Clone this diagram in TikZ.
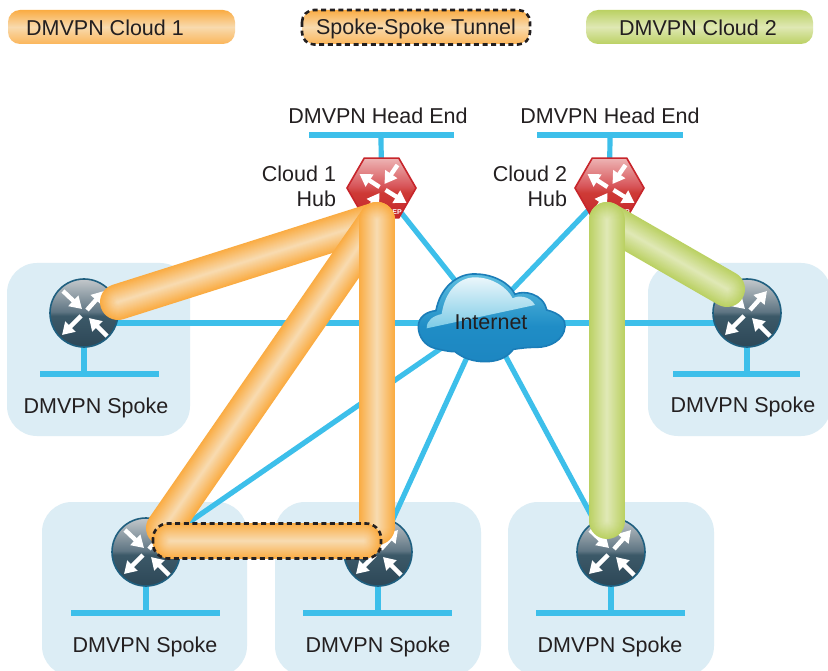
\documentclass[tikz,border=0pt]{standalone}
\usepackage{fontspec}
\setmainfont{Liberation Sans}
\usetikzlibrary{arrows.meta,shapes.geometric,calc}
\definecolor{lanblue}{HTML}{3DBFEA}
\definecolor{panelblue}{HTML}{DCEDF5}
\definecolor{inktext}{HTML}{231F20}
\definecolor{orgedge}{HTML}{FAAC43}
\definecolor{orgmid}{HTML}{F8DAAE}
\definecolor{orgsoft}{HTML}{FBB65A}
\definecolor{grnedge}{HTML}{BBD163}
\definecolor{grnmid}{HTML}{DFE8B4}
\definecolor{cloudedge}{HTML}{1B7DB8}
\definecolor{routeredge}{HTML}{1F5F7F}
\definecolor{hubedge}{HTML}{C7252B}
\definecolor{rta}{HTML}{2D4757}
\definecolor{rtb}{HTML}{3C5968}
\definecolor{rtc}{HTML}{5F7583}
\definecolor{rtd}{HTML}{C3C8CB}
\definecolor{hba}{HTML}{C5272B}
\definecolor{hbb}{HTML}{CE3A36}
\definecolor{hbc}{HTML}{D8565A}
\definecolor{hbd}{HTML}{EDB4B4}
\definecolor{cla}{HTML}{1D86C1}
\definecolor{clb}{HTML}{1F8DC6}
\definecolor{clc}{HTML}{5FBFE0}
\definecolor{gla}{HTML}{7CCBE6}
\definecolor{glb}{HTML}{EAF6FB}
\pgfdeclareverticalshading{routershade}{100bp}{%
  color(0bp)=(rta);color(25bp)=(rta);color(48bp)=(rtb);color(51bp)=(rtc);color(75bp)=(rtd);color(100bp)=(rtd)}
\pgfdeclareverticalshading{hubshade}{100bp}{%
  color(0bp)=(hba);color(25bp)=(hba);color(46bp)=(hbb);color(52bp)=(hbc);color(75bp)=(hbd);color(100bp)=(hbd)}
\pgfdeclareverticalshading{pillorange}{100bp}{%
  color(0bp)=(orgedge);color(25bp)=(orgsoft);color(50bp)=(orgmid);color(75bp)=(orgedge);color(100bp)=(orgedge)}
\pgfdeclareverticalshading{pillgreen}{100bp}{%
  color(0bp)=(grnedge);color(25bp)=(grnedge);color(50bp)=(grnmid);color(75bp)=(grnedge);color(100bp)=(grnedge)}
\pgfdeclareverticalshading{cloudbody}{100bp}{%
  color(0bp)=(cla);color(25bp)=(cla);color(45bp)=(clb);color(75bp)=(clc);color(100bp)=(clc)}
\pgfdeclareverticalshading{cloudgloss}{100bp}{%
  color(0bp)=(gla);color(25bp)=(gla);color(75bp)=(glb);color(100bp)=(glb)}
\tikzset{
  x=1pt,y=-1pt,
  every node/.style={font=\fontsize{21.5}{25}\selectfont,text=inktext,inner sep=0pt,outer sep=0pt},
  panel/.style={fill=panelblue,rounded corners=30},
  lan/.style={draw=lanblue,line width=5.2pt},
  routerdisc/.style={circle,minimum size=68,draw=routeredge,line width=1.6pt,shade,shading=routershade},
  hubhex/.style={regular polygon,regular polygon sides=6,minimum size=69,draw=hubedge,line width=1.6pt,shade,shading=hubshade},
  legendpill/.style={minimum width=227,minimum height=34,rounded corners=12},
  whitearrow/.style={draw=white,line width=4.4pt,-{Triangle[width=14pt,length=12pt]}},
  pics/routerarrows/.style={code={
    \draw[whitearrow] (-21,-22) -- (-2,-4);
    \draw[whitearrow] (3,-3) -- (20,-22);
    \draw[whitearrow] (-3,3) -- (-22,22);
    \draw[whitearrow] (23,23) -- (5,5);
  }},
  pics/hubarrows/.style={code={
    \draw[whitearrow] (-2,-1) -- (-22,-14);
    \draw[whitearrow] (16,-23) -- (3,-4);
    \draw[whitearrow] (4,2) -- (25,15);
    \draw[whitearrow] (-14,23) -- (-2,5);
  }},
}
% tube: connector with a cross gradient, built from nested strokes
\newcommand{\tube}[4]{%
  \foreach \layer in {0,...,17}{%
    \pgfmathsetmacro{\tubew}{36*(1-\layer/18)}%
    \pgfmathsetmacro{\tubemix}{100*\layer/17}%
    \draw[line cap=round,line width=\tubew pt,color=#4!\tubemix!#3] (#1) -- (#2);
  }}
\begin{document}
\begin{tikzpicture}
\clip (0,0) rectangle (828,671);
\fill[white] (0,0) rectangle (828,671);

% panels
\fill[panel] (7,263) rectangle (190,436);
\fill[panel] (648,263) rectangle (831,436);
\fill[panel] (42,502) rectangle (247,676);
\fill[panel] (275,502) rectangle (481,676);
\fill[panel] (508,502) rectangle (714,676);

% named positions
\coordinate (net) at (485,318);
\coordinate (he1a) at (309,135); \coordinate (he1b) at (454,135); \coordinate (he1m) at (381,135);
\coordinate (he2a) at (537,135); \coordinate (he2b) at (683,135); \coordinate (he2m) at (610,135);
\coordinate (lan1a) at (40,374); \coordinate (lan1b) at (159,374); \coordinate (lan1m) at (84,374);
\coordinate (lan2a) at (673,374); \coordinate (lan2b) at (800,374); \coordinate (lan2m) at (747,374);
\coordinate (lan3a) at (71,613); \coordinate (lan3b) at (220,613); \coordinate (lan3m) at (146,613);
\coordinate (lan4a) at (303,613); \coordinate (lan4b) at (452,613); \coordinate (lan4m) at (378,613);
\coordinate (lan5a) at (536,613); \coordinate (lan5b) at (685,613); \coordinate (lan5m) at (611,613);
\coordinate (hub1c) at (381.5,188);
\coordinate (hub2c) at (609.5,188);
\coordinate (sp1c) at (84,313);
\coordinate (sp2c) at (747,313);
\coordinate (sp3c) at (146,552);
\coordinate (sp4c) at (378,552);
\coordinate (sp5c) at (611,552);
\coordinate (w1) at (84,323);
\coordinate (w2) at (747,323);

% LAN and WAN links
\draw[lan] (he1a) -- (he1b); \draw[lan] (he1m) -- (hub1c);
\draw[lan] (he2a) -- (he2b); \draw[lan] (he2m) -- (hub2c);
\draw[lan] (lan1a) -- (lan1b); \draw[lan] (lan1m) -- (sp1c);
\draw[lan] (lan2a) -- (lan2b); \draw[lan] (lan2m) -- (sp2c);
\draw[lan] (lan3a) -- (lan3b); \draw[lan] (lan3m) -- (sp3c);
\draw[lan] (lan4a) -- (lan4b); \draw[lan] (lan4m) -- (sp4c);
\draw[lan] (lan5a) -- (lan5b); \draw[lan] (lan5m) -- (sp5c);
\draw[lan] (hub1c) -- (net);
\draw[lan] (hub2c) -- (net);
\draw[lan] (w1) -- (w2);
\draw[lan] (sp3c) -- (net);
\draw[lan] (sp4c) -- (net);
\draw[lan] (sp5c) -- (net);

% devices
\node[hubhex] (hub1) at (hub1c) {};
\node[hubhex] (hub2) at (hub2c) {};
\node[routerdisc] (sp1) at (sp1c) {};
\node[routerdisc] (sp2) at (sp2c) {};
\node[routerdisc] (sp3) at (sp3c) {};
\node[routerdisc] (sp4) at (sp4c) {};
\node[routerdisc] (sp5) at (sp5c) {};
\path (hub1.center) pic {hubarrows};
\path (hub2.center) pic {hubarrows};
\path (sp1.center) pic {routerarrows};
\path (sp2.center) pic {routerarrows};
\path (sp3.center) pic {routerarrows};
\path (sp4.center) pic {routerarrows};
\path (sp5.center) pic {routerarrows};
\node[font=\bfseries\fontsize{7}{8}\selectfont,text=white] (tag1) at (397,212) {EP};
\node[font=\bfseries\fontsize{7}{8}\selectfont,text=white] (tag2) at (625,212) {EP};

% cloud
\begin{scope}[shift={(400,260)},x=0.33333pt,y=-0.33333pt]
\draw[draw=cloudedge,line width=1.6pt,shade,shading=cloudbody]
  (55,200) .. controls (55,170) and (80,155) .. (108,152)
  .. controls (120,85) and (170,40) .. (225,42)
  .. controls (280,42) and (330,70) .. (345,103)
  .. controls (370,90) and (430,100) .. (440,150)
  .. controls (480,160) and (498,180) .. (495,200)
  .. controls (492,240) and (450,262) .. (410,262)
  .. controls (380,262) and (360,265) .. (340,268)
  .. controls (320,295) and (290,305) .. (255,305)
  .. controls (220,305) and (190,295) .. (165,275)
  .. controls (140,275) and (120,268) .. (105,265)
  .. controls (75,258) and (55,230) .. (55,200) -- cycle;
\shade[shading=cloudgloss]
  (80,205) .. controls (80,180) and (100,168) .. (125,162)
  .. controls (135,95) and (175,52) .. (225,52)
  .. controls (275,52) and (320,80) .. (338,115)
  .. controls (355,105) and (390,108) .. (405,135) -- cycle;
\end{scope}
\node (internet) at (491,322) {Internet};

% tunnels
\coordinate (hubtop1) at (377,220);
\coordinate (hubbot1) at (377,527);
\coordinate (t1end) at (118,302);
\coordinate (t2end) at (164,528);
\coordinate (ss1) at (170.5,541);
\coordinate (ss2) at (363.5,541);
\coordinate (hubtop2) at (607,220);
\coordinate (hubbot2) at (607,521);
\coordinate (t3end) at (727,289);
\tube{t1end}{hubtop1}{orgedge}{orgmid}
\tube{t2end}{hubtop1}{orgedge}{orgmid}
\tube{hubtop1}{hubbot1}{orgedge}{orgmid}
\tube{ss1}{ss2}{orgedge}{orgmid}
\draw[line width=2.6pt,inktext,dash pattern=on 5pt off 3.6pt,rounded corners=15] (153,523.5) rectangle (381,558.5);
\tube{t3end}{hubtop2}{grnedge}{grnmid}
\tube{hubtop2}{hubbot2}{grnedge}{grnmid}

% labels
\node (he1) at (378,116) {DMVPN Head End};
\node (he2) at (610,116) {DMVPN Head End};
\node[align=right,anchor=east] (c1) at (336,186) {Cloud 1\\Hub};
\node[align=right,anchor=east] (c2) at (567,186) {Cloud 2\\Hub};
\node (l1) at (96,408) {DMVPN Spoke};
\node (l2) at (743,407) {DMVPN Spoke};
\node (l3) at (145,647) {DMVPN Spoke};
\node (l4) at (378,647) {DMVPN Spoke};
\node (l5) at (610,647) {DMVPN Spoke};

% legend
\node[legendpill,shade,shading=pillorange] (leg1) at (121.5,27) {};
\node (leg1t) at (105,27.5) {DMVPN Cloud 1};
\node[legendpill,shade,shading=pillorange] (leg2) at (416,27) {};
\draw[line width=2.6pt,inktext,dash pattern=on 5pt off 3.6pt,rounded corners=12] (302,10) rectangle (530,44.5);
\node (leg2t) at (416,28.5) {Spoke-Spoke Tunnel};
\node[legendpill,shade,shading=pillgreen] (leg3) at (699.5,27) {};
\node (leg3t) at (698,27.5) {DMVPN Cloud 2};
\end{tikzpicture}
\end{document}
